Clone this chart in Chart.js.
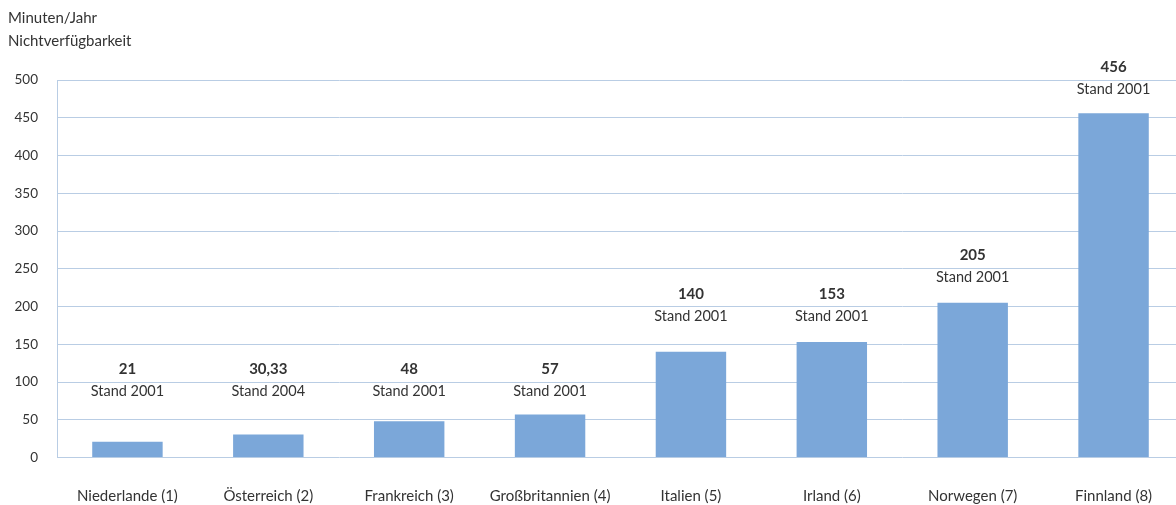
<!DOCTYPE html>
<html>
<head>
<meta charset="utf-8">
<script src="https://cdn.jsdelivr.net/npm/chart.js@4/dist/chart.umd.min.js"></script>
<style>
html,body{margin:0;padding:0;background:#fff;overflow:hidden;}
#wrap{width:1176px;height:505px;overflow:hidden;position:relative;}
canvas{display:block;}
</style>
</head>
<body>
<div id="wrap"><canvas id="c" width="1184" height="505"></canvas></div>
<script>
const categories = ['Niederlande (1)','Österreich (2)','Frankreich (3)','Großbritannien (4)','Italien (5)','Irland (6)','Norwegen (7)','Finnland (8)'];
const values = [21, 30.33, 48, 57, 140, 153, 205, 456];
const valueLabels = ['21','30,33','48','57','140','153','205','456'];
const standLabels = ['Stand 2001','Stand 2004','Stand 2001','Stand 2001','Stand 2001','Stand 2001','Stand 2001','Stand 2001'];
const labelAnchor = [88, 88, 88, 88, 187, 187, 239, 488];
const yTicks = [0,50,100,150,200,250,300,350,400,450,500];
const axisTitle = ['Minuten/Jahr','Nichtverfügbarkeit'];

const FONT = "Lato, 'Open Sans', sans-serif";
const TXT = '#333333';
const GRID = '#B9CDE4';

const labelPlugin = {
  id: 'labels',
  afterDatasetsDraw(chart) {
    const ctx = chart.ctx;
    const xs = chart.scales.x, ys = chart.scales.y;
    ctx.save();
    ctx.textAlign = 'center';
    ctx.textBaseline = 'middle';
    ctx.fillStyle = TXT;
    for (let i = 0; i < values.length; i++) {
      const x = xs.getPixelForValue(i);
      const y = ys.getPixelForValue(labelAnchor[i]);
      ctx.font = "bold 15px " + FONT;
      ctx.fillText(valueLabels[i], x, y - 22);
      ctx.font = "14.5px " + FONT;
      ctx.fillText(standLabels[i], x, y);
    }
    ctx.textAlign = 'left';
    ctx.font = "15px " + FONT;
    ctx.fillText(axisTitle[0], 8, 18);
    ctx.fillText(axisTitle[1], 8, 41);
    ctx.restore();
  }
};

new Chart(document.getElementById('c'), {
  type: 'bar',
  data: {
    labels: categories,
    datasets: [{
      data: values,
      backgroundColor: '#7BA7D9',
      borderWidth: 0,
      barPercentage: 0.5,
      categoryPercentage: 1.0
    }]
  },
  options: {
    responsive: false,
    animation: false,
    devicePixelRatio: 1,
    layout: { padding: { top: 80, right: 0, left: 0, bottom: 0 } },
    plugins: { legend: { display: false }, tooltip: { enabled: false } },
    scales: {
      x: {
        grid: { display: false },
        border: { display: false },
        ticks: { color: TXT, font: { family: FONT, size: 15 }, padding: 22, maxRotation: 0, autoSkip: false },
        afterFit(s) { s.height = 47.5; }
      },
      y: {
        min: 0, max: 500,
        afterBuildTicks(s) { s.ticks = yTicks.map(v => ({ value: v })); },
        grid: { color: GRID, lineWidth: 1, drawTicks: false },
        border: { display: true, color: GRID, width: 1 },
        ticks: { color: TXT, font: { family: FONT, size: 13.5 }, padding: 19 },
        afterFit(s) { s.width = 57; }
      }
    }
  },
  plugins: [labelPlugin]
});
</script>
</body>
</html>
